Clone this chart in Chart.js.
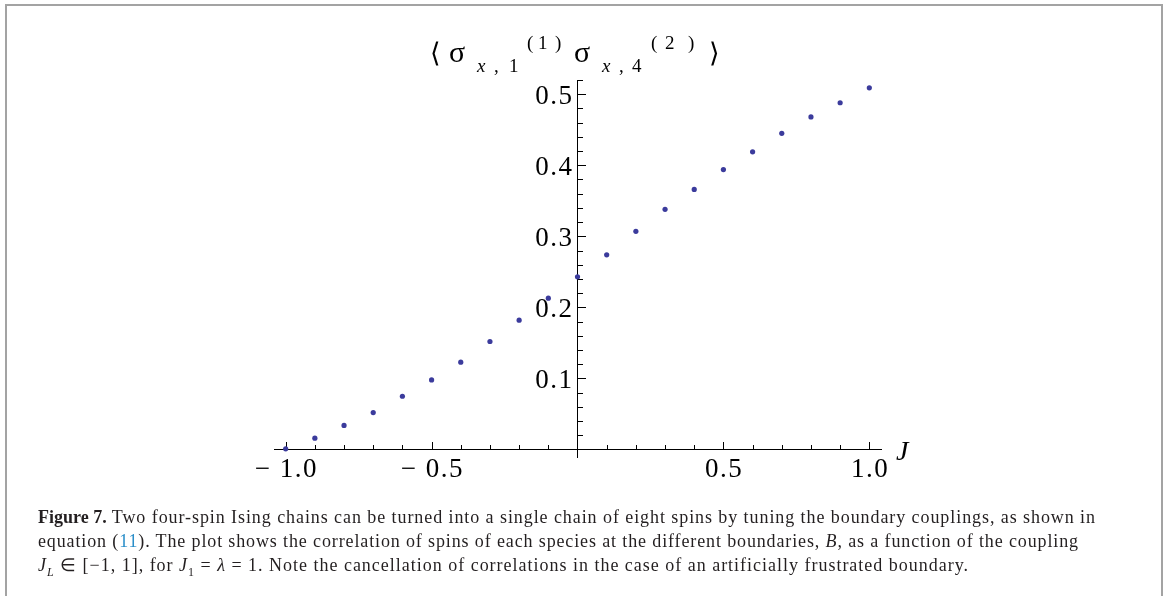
<!DOCTYPE html>
<html>
<head>
<meta charset="utf-8">
<script src="https://cdn.jsdelivr.net/npm/chart.js@4/dist/chart.umd.min.js"></script>
<style>
  html, body { margin: 0; padding: 0; background: #fff; }
  #page { position: relative; width: 1166px; height: 596px; overflow: hidden; background: #fff; }
  #frame { position: absolute; left: 5px; top: 4px; width: 1154px; height: 620px;
           border: 2px solid #a3a3a3; border-bottom: none; }
  #plot { position: absolute; left: 0; top: 0; }
  #caption { position: absolute; left: 38px; top: 505px; font-family: "Liberation Serif", serif;
             font-size: 18px; line-height: 24px; color: #231f20; white-space: nowrap; }
  #caption .line { display: inline-block; }
  #caption b { font-weight: bold; letter-spacing: 0; }
  #caption .ref { color: #2a8ec9; }
</style>
</head>
<body>
<div id="page">
  <div id="frame"></div>
  <canvas id="plot" width="1166" height="596"></canvas>
  <div id="caption">
    <div><span class="line" data-right="1095"><b>Figure 7.</b> Two four-spin Ising chains can be turned into a single chain of eight spins by tuning the boundary couplings, as shown in</span></div>
    <div><span class="line" data-right="1078">equation (<span class="ref">11</span>). The plot shows the correlation of spins of each species at the different boundaries, <i>B</i>, as a function of the coupling</span></div>
    <div><span class="line" data-right="968"><i>J<sub style="font-size:12px">L</sub></i> ∈ [−1, 1], for <i>J</i><sub style="font-size:12px">1</sub> = <i>λ</i> = 1. Note the cancellation of correlations in the case of an artificially frustrated boundary.</span></div>
  </div>
</div>
<script>
// Boundary coupling J and the correlation <σx,1(1) σx,4(2)>
const J = [-1.0, -0.9, -0.8, -0.7, -0.6, -0.5, -0.4, -0.3, -0.2, -0.1, 0.0,
           0.1, 0.2, 0.3, 0.4, 0.5, 0.6, 0.7, 0.8, 0.9, 1.0];
const correlation = [0.001, 0.016, 0.034, 0.052, 0.075, 0.098, 0.123, 0.152, 0.182, 0.213, 0.243,
                     0.274, 0.307, 0.338, 0.366, 0.394, 0.419, 0.445, 0.468, 0.488, 0.509];

// Axis ticks
const xTickValues = [-1.0, -0.5, 0.5, 1.0];
const xTickLabels = ['\u2212 1.0', '\u2212 0.5', '0.5', '1.0'];
const xMinorTicks = [-0.9, -0.8, -0.7, -0.6, -0.4, -0.3, -0.2, -0.1, 0.1, 0.2, 0.3, 0.4, 0.6, 0.7, 0.8, 0.9];
const yTickValues = [0.1, 0.2, 0.3, 0.4, 0.5];
const yTickLabels = ['0.1', '0.2', '0.3', '0.4', '0.5'];
const yMinorTicks = [0.02, 0.04, 0.06, 0.08, 0.12, 0.14, 0.16, 0.18, 0.22, 0.24, 0.26, 0.28,
                     0.32, 0.34, 0.36, 0.38, 0.42, 0.44, 0.46, 0.48, 0.52];

const SERIF = '"Liberation Serif", "Times New Roman", serif';
const LABEL_FONT = '27px ' + SERIF;
const LABEL_SPACING = 1.5;

// Text with extra tracking between glyphs; align is 'left' | 'center' | 'right'
function spacedText(ctx, text, x, y, align, spacing) {
  const chars = Array.from(text);
  const widths = chars.map(c => ctx.measureText(c).width);
  const total = widths.reduce((a, b) => a + b, 0) + spacing * (chars.length - 1);
  let cx = align === 'center' ? x - total / 2 : align === 'right' ? x - total : x;
  ctx.textAlign = 'left';
  chars.forEach((c, i) => { ctx.fillText(c, cx, y); cx += widths[i] + spacing; });
}

// Ticks pointing inward from the axes plus their labels, placed by the chart's scales
const axisTicks = {
  id: 'axisTicks',
  beforeDatasetsDraw(chart) {
    const { ctx, scales: { x, y } } = chart;
    const x0 = Math.round(x.getPixelForValue(0));
    const y0 = Math.round(y.getPixelForValue(0));
    ctx.save();
    ctx.strokeStyle = '#000';
    ctx.lineWidth = 1;
    ctx.beginPath();
    const hx = (v, len) => {
      const px = Math.round(x.getPixelForValue(v)) + 0.5;
      ctx.moveTo(px, y0); ctx.lineTo(px, y0 - len);
    };
    const hy = (v, len) => {
      const py = Math.round(y.getPixelForValue(v)) + 0.5;
      ctx.moveTo(x0, py); ctx.lineTo(x0 + len, py);
    };
    xTickValues.forEach(v => hx(v, 8));
    xMinorTicks.forEach(v => hx(v, 5));
    yTickValues.forEach(v => hy(v, 8));
    yMinorTicks.forEach(v => hy(v, 5));
    ctx.stroke();

    ctx.fillStyle = '#000';
    ctx.font = LABEL_FONT;
    ctx.textBaseline = 'alphabetic';
    xTickValues.forEach((v, i) => spacedText(ctx, xTickLabels[i], x.getPixelForValue(v), y0 + 27, 'center', LABEL_SPACING));
    yTickValues.forEach((v, i) => spacedText(ctx, yTickLabels[i], x0 - 6, y.getPixelForValue(v) + 10, 'right', LABEL_SPACING));
    ctx.restore();
  }
};

// Axis names: the correlator above the vertical axis and J at the end of the horizontal axis
const titlePieces = [
  ['\u27E8', 430, 62, 27, false],
  ['\u03C3', 449, 62, 30, false],
  ['x', 477, 72, 19, true],
  [',', 494, 72, 19, false],
  ['1', 509, 72, 19, false],
  ['(', 527, 49, 19, false],
  ['1', 538, 49, 19, false],
  [')', 555, 49, 19, false],
  ['\u03C3', 574, 62, 30, false],
  ['x', 602, 72, 19, true],
  [',', 619, 72, 19, false],
  ['4', 632, 72, 19, false],
  ['(', 651, 49, 19, false],
  ['2', 665, 49, 19, false],
  [')', 688, 49, 19, false],
  ['\u27E9', 709, 62, 27, false],
  ['J', 896, 460, 28, true]
];
const axisNames = {
  id: 'axisNames',
  afterDraw(chart) {
    const ctx = chart.ctx;
    ctx.save();
    ctx.fillStyle = '#000';
    ctx.textBaseline = 'alphabetic';
    ctx.textAlign = 'left';
    titlePieces.forEach(([t, px, py, size, italic]) => {
      ctx.font = (italic ? 'italic ' : '') + size + 'px ' + SERIF;
      ctx.fillText(t, px, py);
    });
    ctx.restore();
  }
};

new Chart(document.getElementById('plot'), {
  type: 'scatter',
  data: {
    datasets: [{
      data: J.map((j, i) => ({ x: j, y: correlation[i] })),
      pointRadius: 2.6,
      pointHoverRadius: 2.6,
      backgroundColor: '#3b3b9c',
      borderWidth: 0
    }]
  },
  options: {
    responsive: false,
    animation: false,
    events: [],
    layout: { padding: { left: 274, right: 285, top: 80, bottom: 139 } },
    plugins: { legend: { display: false }, tooltip: { enabled: false }, title: { display: false } },
    scales: {
      x: {
        type: 'linear',
        min: -1.04,
        max: 1.04,
        position: { y: 0 },
        afterBuildTicks: axis => { axis.ticks = xTickValues.map(v => ({ value: v })); },
        grid: { drawOnChartArea: false, drawTicks: false },
        border: { display: true, color: '#000', width: 1 },
        ticks: { display: false }
      },
      y: {
        type: 'linear',
        min: -0.0105,
        max: 0.52,
        position: { x: 0 },
        afterBuildTicks: axis => { axis.ticks = yTickValues.map(v => ({ value: v })); },
        grid: { drawOnChartArea: false, drawTicks: false },
        border: { display: true, color: '#000', width: 1 },
        ticks: { display: false }
      }
    }
  },
  plugins: [axisTicks, axisNames]
});

// Caption lines are tracked out to their set right edges (the bold lead-in keeps its own spacing)
document.querySelectorAll('#caption .line').forEach(el => {
  const box = el.getBoundingClientRect();
  const target = +el.dataset.right - box.left;
  const bold = el.querySelector('b');
  const n = el.textContent.length - (bold ? bold.textContent.length : 0);
  if (n > 1) el.style.letterSpacing = Math.max(0, (target - box.width) / (n - 1)).toFixed(3) + 'px';
});
</script>
</body>
</html>
